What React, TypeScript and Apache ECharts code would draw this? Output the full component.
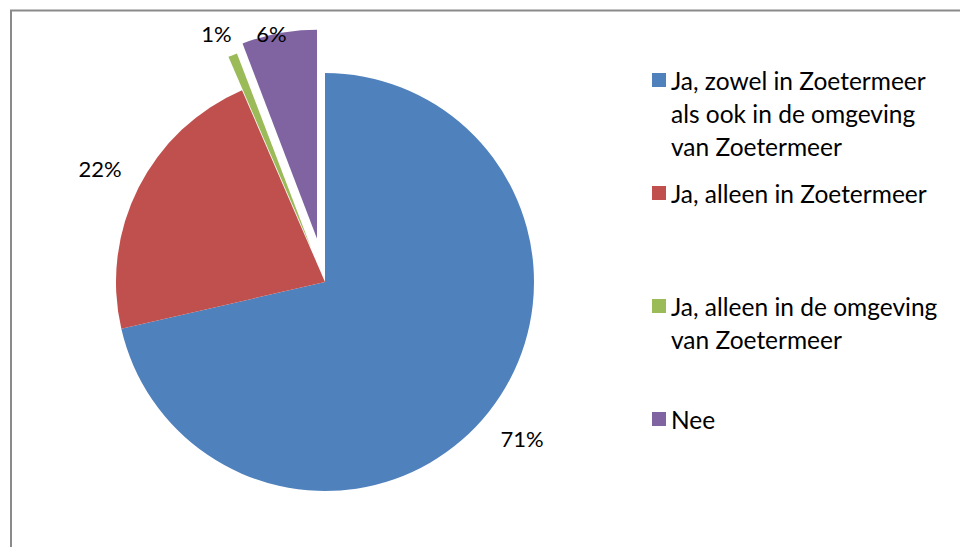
import React, { useEffect, useRef } from "react";
import * as echarts from "echarts";

// ---- data ----
const categories = [
  "Ja, zowel in Zoetermeer als ook in de omgeving van Zoetermeer",
  "Ja, alleen in Zoetermeer",
  "Ja, alleen in de omgeving van Zoetermeer",
  "Nee",
];
const legendLines = [
  ["Ja, zowel in Zoetermeer", "als ook in de omgeving", "van Zoetermeer"],
  ["Ja, alleen in Zoetermeer"],
  ["Ja, alleen in de omgeving", "van Zoetermeer"],
  ["Nee"],
];
const values = [71.4, 22.1, 0.7, 5.8];

// ---- style ----
const colors = ["#4F81BD", "#C0504D", "#9BBB59", "#8064A2"];
const explode = [0, 0, 36, 44];
const CX = 325;
const CY = 282;
const RADIUS = 209;
const LABEL_R = 252;
const LABEL_MIN_Y = 33;
const FONT = "Lato, 'Open Sans', sans-serif";
const LABEL_SIZE = 22;
const LEGEND_SIZE = 24.5;
const LEGEND_LEFT = 652;
const LEGEND_FIRST_CENTER = 80;
const LEGEND_STEP = 113;
const LINE_H = 33;

export default function App() {
  const ref = useRef<HTMLDivElement>(null);

  useEffect(() => {
    if (!ref.current) return;
    const chart = echarts.init(ref.current, undefined, { renderer: "svg" });
    const total = values.reduce((a, b) => a + b, 0);
    const starts: number[] = [];
    let acc = 0;
    values.forEach((v) => {
      starts.push(acc);
      acc += v;
    });

    const dirOf = (i: number) => {
      const mid = ((starts[i] + values[i] / 2) / total) * Math.PI * 2;
      return [Math.sin(mid), -Math.cos(mid)];
    };
    const centerOf = (i: number) => {
      const [sx, sy] = dirOf(i);
      return [CX + explode[i] * sx, CY + explode[i] * sy];
    };
    const labelPos = (i: number) => {
      const [sx, sy] = dirOf(i);
      const [ox, oy] = centerOf(i);
      const x = ox + LABEL_R * sx;
      let y = oy + LABEL_R * sy;
      if (y < LABEL_MIN_Y) y = LABEL_MIN_Y;
      return { x, y };
    };

    const series = values.map((_, k) => ({
      type: "pie",
      name: "s" + k,
      center: centerOf(k),
      radius: [0, RADIUS],
      startAngle: 90,
      clockwise: true,
      silent: true,
      avoidLabelOverlap: false,
      emphasis: { disabled: true },
      labelLine: { show: false },
      label: {
        show: true,
        position: "outside",
        fontFamily: FONT,
        fontSize: LABEL_SIZE,
        color: "#000",
        formatter: (p: any) => Math.round(p.percent) + "%",
      },
      labelLayout: (params: any) => {
        const pos = labelPos(params.dataIndex);
        return { x: pos.x, y: pos.y, align: "center", verticalAlign: "middle" };
      },
      data: values.map((v, i) => ({
        name: categories[i],
        value: v,
        itemStyle: { color: colors[i], opacity: i === k ? 1 : 0 },
        label: { show: i === k },
      })),
    }));

    const legend = legendLines.map((lines, i) => {
      const n = lines.length;
      const centerY = LEGEND_FIRST_CENTER + i * LEGEND_STEP;
      const padded = new Array(n - 1).fill("").concat(lines);
      return {
        left: LEGEND_LEFT,
        top: centerY - ((2 * n - 1) * LINE_H) / 2,
        orient: "vertical",
        padding: 0,
        itemGap: 0,
        itemWidth: 14,
        itemHeight: 14,
        icon: "rect",
        selectedMode: false,
        data: [{ name: categories[i], itemStyle: { color: colors[i], opacity: 1, borderWidth: 0 } }],
        formatter: () => padded.join("\n"),
        textStyle: {
          fontFamily: FONT,
          fontSize: LEGEND_SIZE,
          lineHeight: LINE_H,
          color: "#000",
        },
      };
    });

    chart.setOption({
      animation: false,
      backgroundColor: "#ffffff",
      legend,
      series,
      graphic: [
        {
          type: "rect",
          silent: true,
          z: -10,
          shape: { x: 11, y: 10.5, width: 2000, height: 2000 },
          style: { fill: "none", stroke: "#8a8a8a", lineWidth: 2 },
        },
      ],
    } as any);

    return () => chart.dispose();
  }, []);

  return (
    <div
      ref={ref}
      style={{ position: "fixed", left: 0, top: 0, width: 960, height: 547 }}
    />
  );
}
